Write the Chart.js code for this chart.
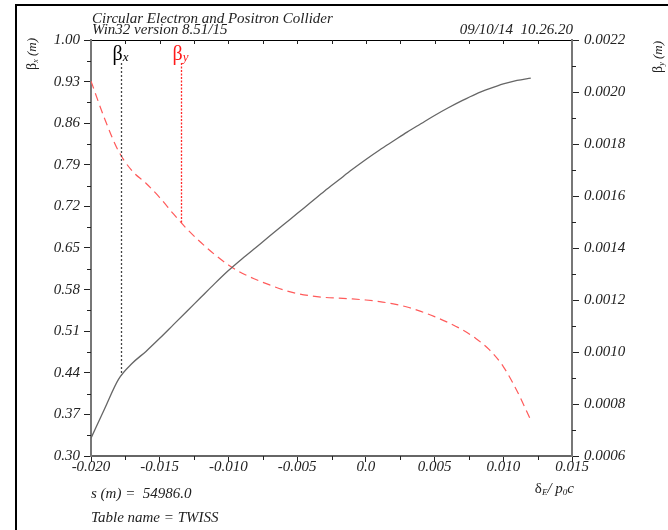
<!DOCTYPE html>
<html>
<head>
<meta charset="utf-8">
<script src="https://cdn.jsdelivr.net/npm/chart.js@4/dist/chart.umd.min.js"></script>
<style>
  html, body { margin: 0; padding: 0; background: #fff; }
  canvas { display: block; }
</style>
</head>
<body>
<canvas id="twiss" width="668" height="530"></canvas>
<script>
// Momentum deviation (horizontal axis)
const deltaP = [
  -0.020, -0.019, -0.018, -0.017, -0.016, -0.015, -0.014, -0.013, -0.012, -0.011,
  -0.010, -0.009, -0.008, -0.007, -0.006, -0.005, -0.004, -0.003, -0.002, -0.001,
   0.000,  0.001,  0.002,  0.003,  0.004,  0.005,  0.006,  0.007,  0.008,  0.009,
   0.010,  0.011,  0.012
];
// Horizontal beta function at the IP (left axis, m)
const betaX = [
  0.330, 0.380, 0.429, 0.456, 0.476, 0.498, 0.521, 0.544, 0.567, 0.590,
  0.612, 0.632, 0.651, 0.670, 0.689, 0.708, 0.727, 0.746, 0.764, 0.782,
  0.799, 0.815, 0.830, 0.845, 0.859, 0.873, 0.886, 0.898, 0.909, 0.918,
  0.926, 0.932, 0.936
];
// Vertical beta function at the IP (right axis, m)
const betaY = [
  0.002042, 0.001896, 0.001773, 0.001696, 0.001649, 0.001594, 0.001531, 0.001472, 0.001421, 0.001375,
  0.001335, 0.001303, 0.001279, 0.001258, 0.001239, 0.001225, 0.001216, 0.001210, 0.001207, 0.001204,
  0.001200, 0.001194, 0.001185, 0.001173, 0.001156, 0.001136, 0.001113, 0.001086, 0.001052, 0.001008,
  0.000944, 0.000850, 0.000738
];
// Tick values and labels
const betaXTicks = [0.30, 0.37, 0.44, 0.51, 0.58, 0.65, 0.72, 0.79, 0.86, 0.93, 1.00];
const betaYTicks = [0.0006, 0.0008, 0.0010, 0.0012, 0.0014, 0.0016, 0.0018, 0.0020, 0.0022];
const deltaTicks = [-0.020, -0.015, -0.010, -0.005, 0.0, 0.005, 0.010, 0.015];
const deltaTickLabels = ['-0.020', '-0.015', '-0.010', '-0.005', '0.0', '0.005', '0.010', '0.015'];
// Curve markers: position and the beta value where the marker meets its curve
const markerDelta = [-0.01782, -0.01345];
const markerBeta = [0.436, 0.001496];

const SERIF = '"Liberation Serif", "DejaVu Serif", serif';
const fItal = (s) => `italic ${s}px ${SERIF}`;
const fReg = (s) => `${s}px ${SERIF}`;
const TEXT = '#222';

// Draw a sequence of text runs (for sub/superscripts) starting at x
function drawRuns(ctx, x, y, parts, align) {
  let w = 0;
  parts.forEach(p => { ctx.font = p.f; w += ctx.measureText(p.t).width; });
  let cx = align === 'right' ? x - w : (align === 'center' ? x - w / 2 : x);
  parts.forEach(p => {
    ctx.font = p.f;
    if (p.c) ctx.fillStyle = p.c;
    ctx.fillText(p.t, cx, y + (p.dy || 0));
    cx += ctx.measureText(p.t).width;
  });
}

const minorTicks = {
  id: 'minorTicks',
  afterDraw(chart) {
    const { ctx, chartArea: a, scales } = chart;
    const x = scales.x, yl = scales.y, yr = scales.y2;
    ctx.save();
    ctx.strokeStyle = '#222';
    ctx.lineWidth = 1;
    ctx.beginPath();
    // left / right minor ticks (half step)
    for (let i = 0; i < betaXTicks.length - 1; i++) {
      const py = Math.round(yl.getPixelForValue((betaXTicks[i] + betaXTicks[i + 1]) / 2)) + 0.5;
      ctx.moveTo(a.left - 4, py); ctx.lineTo(a.left, py);
    }
    for (let i = 0; i < betaYTicks.length - 1; i++) {
      const py = Math.round(yr.getPixelForValue((betaYTicks[i] + betaYTicks[i + 1]) / 2)) + 0.5;
      ctx.moveTo(a.right, py); ctx.lineTo(a.right + 4, py);
    }
    // bottom minor ticks, top inward ticks
    for (let i = 0; i < deltaTicks.length - 1; i++) {
      const px = Math.round(x.getPixelForValue((deltaTicks[i] + deltaTicks[i + 1]) / 2)) + 0.5;
      ctx.moveTo(px, a.bottom); ctx.lineTo(px, a.bottom + 4);
    }
    for (let i = 1; i < (deltaTicks.length - 1) * 2; i++) {
      const v = deltaTicks[0] + i * (deltaTicks[1] - deltaTicks[0]) / 2;
      const px = Math.round(x.getPixelForValue(v)) + 0.5;
      ctx.moveTo(px, a.top); ctx.lineTo(px, a.top + 4);
    }
    ctx.stroke();
    ctx.restore();
  }
};

const annotations = {
  id: 'annotations',
  afterDatasetsDraw(chart) {
    const { ctx, scales } = chart;
    const x = scales.x;
    const defs = [
      { scale: scales.y, color: '#444', sub: 'x', dash: [2, 2] },
      { scale: scales.y2, color: '#ff2a2a', sub: 'y', dash: [2, 1.5] }
    ];
    ctx.save();
    defs.forEach((d, i) => {
      const px = Math.round(x.getPixelForValue(markerDelta[i])) + 0.5;
      const py = d.scale.getPixelForValue(markerBeta[i]);
      ctx.strokeStyle = d.color;
      ctx.lineWidth = 1.3;
      ctx.setLineDash(d.dash);
      ctx.beginPath();
      ctx.moveTo(px, 63);
      ctx.lineTo(px, py);
      ctx.stroke();
      ctx.setLineDash([]);
      ctx.textBaseline = 'alphabetic';
      drawRuns(ctx, px - 9, 60, [
        { t: 'β', f: fReg(20), c: i === 0 ? '#000' : '#ff1a1a' },
        { t: d.sub, f: fItal(13), dy: 1 }
      ]);
    });
    ctx.restore();
  },
  afterDraw(chart) {
    const { ctx } = chart;
    ctx.save();
    // outer frame
    ctx.strokeStyle = '#000';
    ctx.lineWidth = 2;
    ctx.beginPath();
    ctx.moveTo(16, 530); ctx.lineTo(16, 5); ctx.lineTo(668, 5);
    ctx.stroke();

    ctx.fillStyle = TEXT;
    ctx.textBaseline = 'alphabetic';
    ctx.font = fItal(15);
    ctx.textAlign = 'left';
    ctx.fillText('Circular Electron and Positron Collider', 92, 23);
    ctx.fillText('Win32 version 8.51/15', 92, 34);
    ctx.textAlign = 'right';
    ctx.fillText('09/10/14  10.26.20', 573, 34);
    ctx.textAlign = 'left';
    ctx.fillText('s (m) =  54986.0', 91, 498);
    ctx.fillText('Table name = TWISS', 91, 522);

    // horizontal axis title
    drawRuns(ctx, 574, 493, [
      { t: 'δ', f: fReg(15) },
      { t: 'E', f: fItal(9), dy: 2 },
      { t: '/ p', f: fItal(15) },
      { t: '0', f: fItal(9), dy: 2 },
      { t: 'c', f: fItal(15) }
    ], 'right');

    // vertical axis titles
    const yTitle = (cx, cy, sub) => {
      ctx.save();
      ctx.translate(cx, cy);
      ctx.rotate(-Math.PI / 2);
      drawRuns(ctx, 0, 0, [
        { t: 'β', f: fReg(14) },
        { t: sub, f: fItal(8), dy: 2 },
        { t: ' (m)', f: fItal(13) }
      ], 'center');
      ctx.restore();
    };
    yTitle(36, 54, 'x');
    yTitle(662, 57, 'y');
    ctx.restore();
  }
};

const tickFont = { family: SERIF, size: 15, style: 'italic' };

new Chart(document.getElementById('twiss'), {
  type: 'line',
  data: {
    datasets: [
      {
        label: 'βx',
        data: deltaP.map((d, i) => ({ x: d, y: betaX[i] })),
        yAxisID: 'y',
        borderColor: '#666',
        borderWidth: 1.3,
        pointRadius: 0,
        cubicInterpolationMode: 'monotone',
        fill: false
      },
      {
        label: 'βy',
        data: deltaP.map((d, i) => ({ x: d, y: betaY[i] })),
        yAxisID: 'y2',
        borderColor: '#ff5a5a',
        borderWidth: 1.2,
        borderDash: [8, 5],
        pointRadius: 0,
        cubicInterpolationMode: 'monotone',
        fill: false
      }
    ]
  },
  options: {
    responsive: false,
    devicePixelRatio: 1,
    animation: false,
    layout: { padding: 0 },
    plugins: { legend: { display: false }, tooltip: { enabled: false } },
    scales: {
      x: {
        type: 'linear',
        position: 'bottom',
        min: -0.020, max: 0.015,
        afterBuildTicks: s => { s.ticks = deltaTicks.map(v => ({ value: v })); },
        afterFit: s => { s.height = 74; },
        ticks: {
          font: tickFont, color: TEXT, padding: -4, maxRotation: 0, autoSkip: false,
          callback: (v) => { const i = deltaTicks.findIndex(t => Math.abs(t - v) < 1e-9); return i >= 0 ? deltaTickLabels[i] : ''; }
        },
        grid: { drawOnChartArea: false, drawTicks: true, tickLength: 6, color: '#222' },
        border: { display: true, color: '#666', width: 2 }
      },
      xTop: {
        type: 'linear',
        position: 'top',
        min: -0.020, max: 0.015,
        afterFit: s => { s.height = 40; },
        ticks: { display: false },
        grid: { drawOnChartArea: false, drawTicks: false },
        border: { display: true, color: '#000', width: 1 }
      },
      y: {
        type: 'linear',
        position: 'left',
        min: 0.30, max: 1.00,
        afterBuildTicks: s => { s.ticks = betaXTicks.map(v => ({ value: v })); },
        afterFit: s => { s.width = 91; },
        ticks: { font: tickFont, color: TEXT, padding: 4, callback: v => v.toFixed(2) },
        grid: { drawOnChartArea: false, drawTicks: true, tickLength: 7, color: '#222' },
        border: { display: true, color: '#777', width: 2 }
      },
      y2: {
        type: 'linear',
        position: 'right',
        min: 0.0006, max: 0.0022,
        afterBuildTicks: s => { s.ticks = betaYTicks.map(v => ({ value: v })); },
        afterFit: s => { s.width = 96; },
        ticks: { font: tickFont, color: TEXT, padding: 5, callback: v => v.toFixed(4) },
        grid: { drawOnChartArea: false, drawTicks: true, tickLength: 7, color: '#222' },
        border: { display: true, color: '#777', width: 2 }
      }
    }
  },
  plugins: [minorTicks, annotations]
});
</script>
</body>
</html>
